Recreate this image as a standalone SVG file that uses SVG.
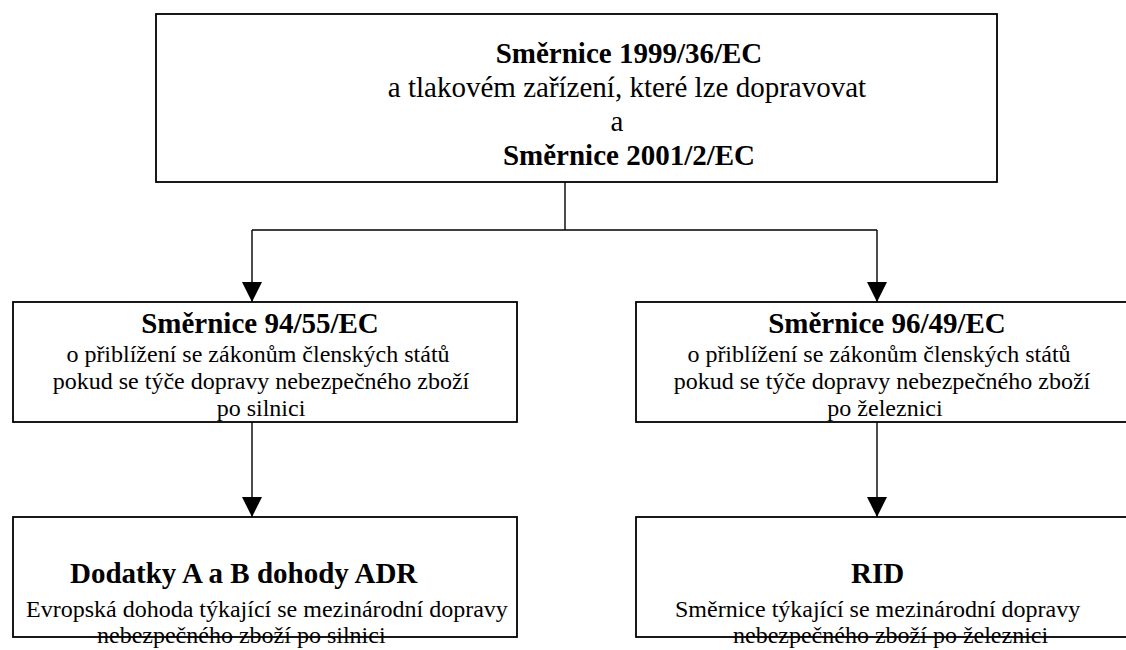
<svg xmlns="http://www.w3.org/2000/svg" width="1126" height="650" viewBox="0 0 1126 650">
<defs>
<marker id="ah" markerUnits="userSpaceOnUse" markerWidth="20" markerHeight="20" refX="20" refY="10" orient="auto" viewBox="0 0 20 20">
<path d="M0,0 L20,10 L0,20 z" fill="#000"/>
</marker>
<style>
.box{fill:#fff;stroke:#000;stroke-width:1.8}
text{fill:#000}
.b{font-weight:bold;font-size:29px}
.r{font-size:24px}
.r29{font-size:29px}
.c{text-anchor:middle}
.ln{fill:none;stroke:#000;stroke-width:1.4}
</style>
</defs>
<rect width="1126" height="650" fill="#fff"/>
<g id="connectors">
<path class="ln" d="M565,182 V230"/>
<path class="ln" d="M252,230 H877"/>
<path class="ln" d="M252,230 V302" marker-end="url(#ah)"/>
<path class="ln" d="M877,230 V302" marker-end="url(#ah)"/>
<path class="ln" d="M252,422 V517" marker-end="url(#ah)"/>
<path class="ln" d="M877,422 V517" marker-end="url(#ah)"/>
</g>
<g font-family="Liberation Serif, Tinos, Times New Roman, DejaVu Serif, serif">
<g id="top">
<rect class="box" x="156" y="14" width="841" height="168"/>
<text class="b c" x="629" y="63">Směrnice 1999/36/EC</text>
<text class="r29 c" x="627" y="97">a tlakovém zařízení, které lze dopravovat</text>
<text class="r29 c" x="617" y="131">a</text>
<text class="b c" x="629" y="165">Směrnice 2001/2/EC</text>
</g>
<g id="mid-left">
<rect class="box" x="13" y="302" width="504" height="120"/>
<text class="b c" x="260" y="333">Směrnice 94/55/EC</text>
<text class="r c" x="258" y="362">o přiblížení se zákonům členských států</text>
<text class="r c" x="261" y="389">pokud se týče dopravy nebezpečného zboží</text>
<text class="r c" x="261" y="416">po silnici</text>
</g>
<g id="mid-right">
<rect class="box" x="636" y="302" width="504" height="120"/>
<text class="b c" x="887" y="333">Směrnice 96/49/EC</text>
<text class="r c" x="879" y="362">o přiblížení se zákonům členských států</text>
<text class="r c" x="882" y="389">pokud se týče dopravy nebezpečného zboží</text>
<text class="r c" x="885" y="416">po železnici</text>
</g>
<g id="bottom-left">
<rect class="box" x="13" y="517" width="504" height="120"/>
<text class="b" x="70" y="583">Dodatky A a B dohody ADR</text>
<text class="r" x="26" y="617">Evropská dohoda týkající se mezinárodní dopravy</text>
<text class="r" x="97" y="643">nebezpečného zboží po silnici</text>
</g>
<g id="bottom-right">
<rect class="box" x="636" y="517" width="504" height="120"/>
<text class="b" x="851" y="583">RID</text>
<text class="r" x="675" y="617">Směrnice týkající se mezinárodní dopravy</text>
<text class="r" x="733" y="643">nebezpečného zboží po železnici</text>
</g>
</g>
</svg>
